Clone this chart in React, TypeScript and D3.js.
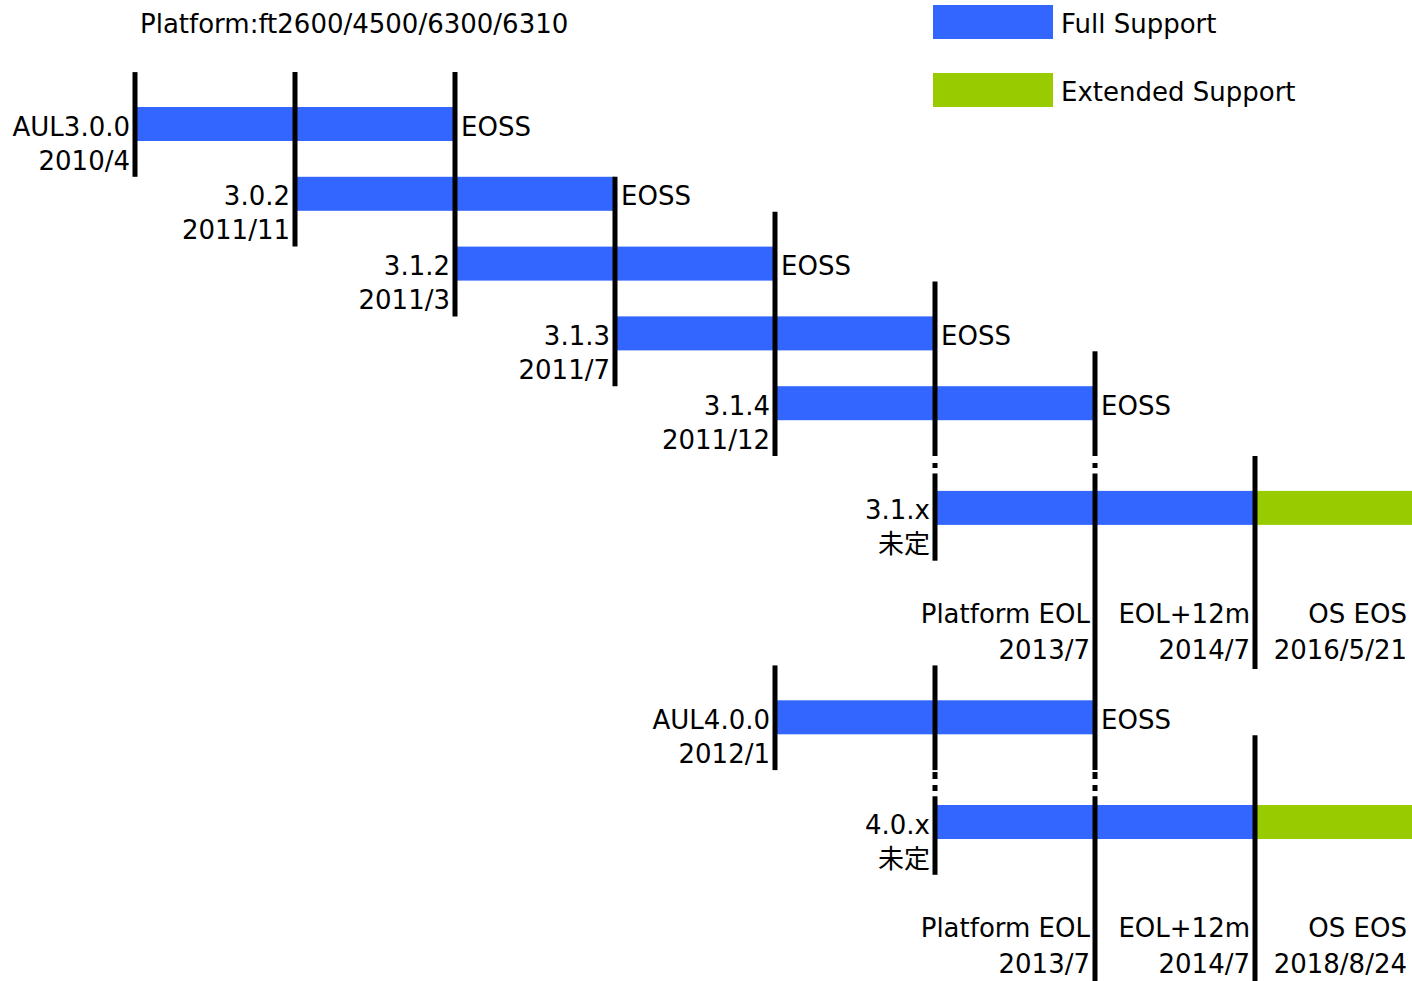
import { useEffect, useRef } from "react";
import * as d3 from "d3";

// release rows
const releases = ["AUL3.0.0", "3.0.2", "3.1.2", "3.1.3", "3.1.4", "3.1.x", "AUL4.0.0", "4.0.x"];
const releaseDates = ["2010/4", "2011/11", "2011/3", "2011/7", "2011/12", "未定", "2012/1", "未定"];
const fullStart = [0, 1, 2, 3, 4, 5, 4, 5];
const fullEnd = [2, 3, 4, 5, 6, 7, 6, 7];
const extendedEnd = [null, null, null, null, null, 8, null, 8];
const showEoss = [true, true, true, true, true, false, true, false];
const rowLane = [1, 3, 5, 7, 9, 12, 18, 21];

// milestone labels under the open-ended rows
const milestoneNames = ["Platform EOL", "EOL+12m", "OS EOS"];
const milestoneCols = [6, 7, 8];
const milestoneDates31 = ["2013/7", "2014/7", "2016/5/21"];
const milestoneDates40 = ["2013/7", "2014/7", "2018/8/24"];
const milestoneLanes = [15, 24];

// vertical markers: [column, fromLane, toLane]
const markers = [
    [0, 0, 3], [1, 0, 5], [2, 0, 7], [3, 3, 9], [4, 4, 11], [4, 17, 20],
    [5, 6, 11], [5, 11.5, 14], [5, 17, 20], [5, 20.75, 23],
    [6, 8, 11], [6, 11.5, 20], [6, 20.75, 26.5],
    [7, 11, 17.1], [7, 19, 26.5],
];
const connectors = [
    [5, 11, 11.5, "0 7 5 100"], [6, 11, 11.5, "0 7 5 100"],
    [5, 20, 20.75, "0 2 7 6 6 100"], [6, 20, 20.75, "0 2 7 6 6 100"],
];

const title = "Platform:ft2600/4500/6300/6310";
const legendLabels = ["Full Support", "Extended Support"];
const colors = { full: "#3366ff", extended: "#99cc00" };

const App = () => {
    const chartRef = useRef(null);

    useEffect(() => {
        const svg = d3.select(chartRef.current);
        svg.selectAll("*").remove();

        const width = 1412;
        const height = 981;
        const barH = 34;
        const font = "'DejaVu Sans', 'Noto Sans CJK JP', sans-serif";

        svg.attr("width", width).attr("height", height);

        const x = d3.scaleLinear().domain([0, 8]).range([135, 1415]);
        const y = d3.scaleLinear().domain([0, 26]).range([72.1, 72.1 + 26 * 34.9]);

        const g = svg.append("g").attr("font-family", font).attr("font-size", 26);

        // bars
        g.selectAll("rect.full")
            .data(releases)
            .join("rect")
            .attr("class", "full")
            .attr("x", (d, i) => x(fullStart[i]))
            .attr("y", (d, i) => y(rowLane[i]))
            .attr("width", (d, i) => x(fullEnd[i]) - x(fullStart[i]))
            .attr("height", barH)
            .attr("fill", colors.full);

        const ext = releases.map((d, i) => i).filter((i) => extendedEnd[i] != null);
        g.selectAll("rect.ext")
            .data(ext)
            .join("rect")
            .attr("class", "ext")
            .attr("x", (i) => x(fullEnd[i]))
            .attr("y", (i) => y(rowLane[i]))
            .attr("width", (i) => x(extendedEnd[i]) - x(fullEnd[i]))
            .attr("height", barH)
            .attr("fill", colors.extended);

        // vertical markers
        g.selectAll("line.marker")
            .data(markers)
            .join("line")
            .attr("x1", (d) => x(d[0]))
            .attr("x2", (d) => x(d[0]))
            .attr("y1", (d) => y(d[1]))
            .attr("y2", (d) => y(d[2]))
            .attr("stroke", "#000")
            .attr("stroke-width", 5);

        g.selectAll("line.conn")
            .data(connectors)
            .join("line")
            .attr("x1", (d) => x(d[0]))
            .attr("x2", (d) => x(d[0]))
            .attr("y1", (d) => y(d[1]))
            .attr("y2", (d) => y(d[2]))
            .attr("stroke", "#000")
            .attr("stroke-width", 5)
            .attr("stroke-dasharray", (d) => d[3]);

        // row labels
        const rows = g.selectAll("g.row").data(releases).join("g");
        rows.append("text")
            .attr("x", (d, i) => x(fullStart[i]) - 5)
            .attr("y", (d, i) => y(rowLane[i]) + 28.5)
            .attr("text-anchor", "end")
            .text((d) => d);
        rows.append("text")
            .attr("x", (d, i) => x(fullStart[i]) - 5)
            .attr("y", (d, i) => y(rowLane[i]) + 62.5)
            .attr("text-anchor", "end")
            .text((d, i) => releaseDates[i]);
        rows.filter((d, i) => showEoss[i])
            .append("text")
            .attr("x", (d) => x(fullEnd[releases.indexOf(d)]) + 6)
            .attr("y", (d) => y(rowLane[releases.indexOf(d)]) + 28.5)
            .text("EOSS");

        // milestone labels
        [milestoneDates31, milestoneDates40].forEach((dates, k) => {
            const mg = g.append("g");
            mg.selectAll("text.name")
                .data(milestoneNames)
                .join("text")
                .attr("x", (d, i) => Math.min(x(milestoneCols[i]), width) - 5)
                .attr("y", y(milestoneLanes[k]) + 27)
                .attr("text-anchor", "end")
                .text((d) => d);
            mg.selectAll("text.date")
                .data(dates)
                .join("text")
                .attr("x", (d, i) => Math.min(x(milestoneCols[i]), width) - 5)
                .attr("y", y(milestoneLanes[k]) + 63)
                .attr("text-anchor", "end")
                .text((d) => d);
        });

        // title
        g.append("text").attr("x", 140).attr("y", 33).text(title);

        // legend
        const legend = g.append("g").attr("transform", "translate(933,5)");
        legendLabels.forEach((label, i) => {
            legend.append("rect")
                .attr("x", 0)
                .attr("y", i * 68)
                .attr("width", 120)
                .attr("height", barH)
                .attr("fill", i === 0 ? colors.full : colors.extended);
            legend.append("text")
                .attr("x", 128)
                .attr("y", i * 68 + 28)
                .text(label);
        });
    }, []);

    return (
        <div style={{ position: "absolute", left: 0, top: 0 }}>
            <svg ref={chartRef} style={{ display: "block" }}></svg>
        </div>
    );
};

export default App;
